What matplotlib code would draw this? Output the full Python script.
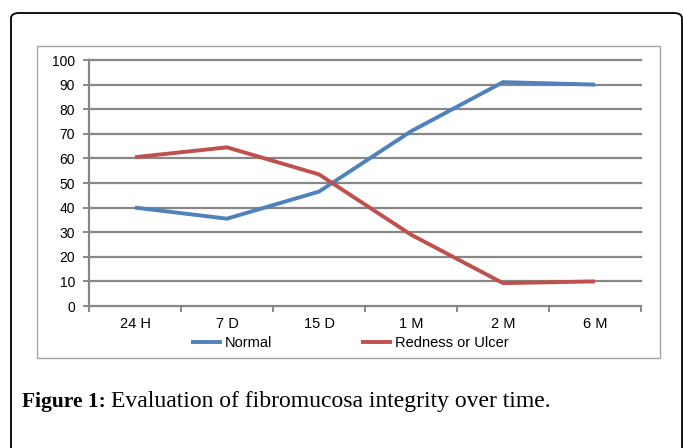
import numpy as np
import matplotlib.pyplot as plt
from matplotlib.patches import FancyBboxPatch, Rectangle

categories = ['24 H', '7 D', '15 D', '1 M', '2 M', '6 M']
normal = [40, 35.5, 46.5, 71, 91, 90]
redness = [60.5, 64.5, 53.5, 29, 9.3, 10]
yticks = np.arange(0, 101, 10)

W, H = 683, 448
fig = plt.figure(figsize=(W / 100, H / 100), dpi=100)
plt.rcParams['font.family'] = ['Liberation Sans', 'DejaVu Sans']

def px(x, y):
    # pixel coords (top-left origin) -> figure fraction
    return x / W, 1 - y / H

# outer rounded frame, runs off the bottom edge
x0, y0 = px(11, 13)
outer = FancyBboxPatch((x0, -0.2), 671 / W, y0 + 0.2, boxstyle='round,pad=0,rounding_size=0.012',
                       transform=fig.transFigure, fill=False, edgecolor='black', linewidth=1.3)
fig.patches.append(outer)

# inner chart box
bx, by = px(37, 358)
inner = Rectangle((bx, by), (660 - 37) / W, (358 - 46) / H, transform=fig.transFigure,
                  fill=False, edgecolor='#a6a6a6', linewidth=1.0)
fig.patches.append(inner)

l, b = px(89, 306)
r, t = px(641, 60)
ax = fig.add_axes([l, b, r - l, t - b])

x = np.arange(len(categories))
ax.plot(x, normal, color='#4F81BD', linewidth=2.8, label='Normal', solid_capstyle='butt')
ax.plot(x, redness, color='#C0504D', linewidth=2.8, label='Redness or Ulcer', solid_capstyle='butt')

ax.set_xlim(-0.5, len(categories) - 0.5)
ax.set_ylim(0, 100)
ax.set_yticks(yticks)
ax.set_yticklabels([str(v) for v in yticks], fontsize=10)
for v in yticks[1:]:
    ax.axhline(v, color='#878787', linewidth=1.6, zorder=0, clip_on=False)

ax.set_xticks(x)
ax.set_xticklabels(categories, fontsize=10.5)
ax.tick_params(axis='x', length=0, pad=8)
ax.set_xticks(np.arange(-0.5, len(categories), 1), minor=True)
ax.tick_params(axis='x', which='minor', length=4, width=1.4, color='#878787', direction='out')
ax.tick_params(axis='y', length=4, width=1.4, color='#878787', pad=6)

for s in ['top', 'right']:
    ax.spines[s].set_visible(False)
for s in ['left', 'bottom']:
    ax.spines[s].set_color('#878787')
    ax.spines[s].set_linewidth(1.6)

lx, ly = px(350, 343)
fig.legend(loc='center', bbox_to_anchor=(lx, ly), ncol=2, frameon=False, fontsize=10.5,
           handlelength=2.1, handletextpad=0.2, columnspacing=6.1, borderpad=0)

cx, cy = px(22, 407)
fig.text(cx, cy, 'Figure 1:', fontsize=15.5, fontweight='bold', family='Liberation Serif',
         va='baseline', ha='left')
fig.text(px(111, 0)[0], cy, 'Evaluation of fibromucosa integrity over time.', fontsize=17,
         family='Liberation Serif', va='baseline', ha='left')

fig.savefig('out.png', dpi=100)
